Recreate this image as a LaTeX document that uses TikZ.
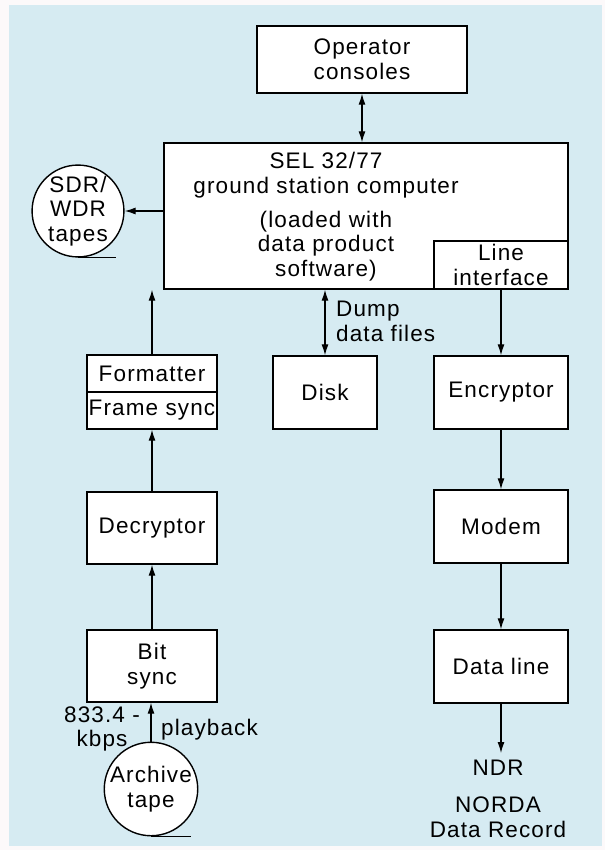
\documentclass[tikz,border=0pt]{standalone}
\usepackage{fontspec}
\setmainfont[LetterSpace=5]{Liberation Sans}
\usetikzlibrary{arrows.meta}
\definecolor{paper}{RGB}{252,249,250}
\definecolor{panel}{RGB}{214,235,242}
\newcommand\lbl{\fontsize{22.5}{24.5}\selectfont}

\begin{document}
\begin{tikzpicture}[x=1pt,y=-1pt,
  box/.style={draw=black, fill=white, line width=1.4pt, inner sep=0pt,
              align=center, font=\lbl},
  tapereel/.style={circle, draw=black, fill=white, line width=1.4pt,
              inner sep=0pt, minimum size=84pt, align=center, font=\lbl},
  txt/.style={inner sep=0pt, font=\lbl},
  conn/.style={line width=1.2pt, -{Latex[length=11pt,width=7pt]}},
  bothway/.style={line width=1.2pt, {Latex[length=11pt,width=7pt]}-{Latex[length=11pt,width=7pt]}}
]
% page and tinted panel
\useasboundingbox (0,0) rectangle (605,850);
\fill[paper] (0,0) rectangle (605,850);
\fill[panel] (9,5) rectangle (602,846);

% central computer
\node[box, minimum width=210pt, minimum height=67pt] (ops) at (362,59.5)
  {Operator\\consoles};
\node[box, minimum width=404pt, minimum height=146pt] (sel) at (366,216) {};
\node[txt, align=center] (seltitle) at (326,175) {SEL 32/77\\ground station computer};
\node[txt, align=center] (selnote) at (326,246) {(loaded with\\data product\\software)};
\node[box, minimum width=134pt, minimum height=48pt] (lif) at (501,265)
  {Line\\interface};

% recorded output tapes
\node[tapereel] (sdr) at (78,211) {SDR/\\WDR\\tapes};
\draw[line width=1.4pt] (sdr.south) -- ++(38,0);

% playback chain
\node[box, minimum width=130pt, minimum height=37pt] (fmt) at (152,373.5) {Formatter};
\node[box, minimum width=130pt, minimum height=37pt] (fsync) at (152,410.5) {Frame sync};
\node[box, minimum width=130pt, minimum height=72pt] (dec) at (152,528) {Decryptor};
\node[box, minimum width=130pt, minimum height=72pt] (bit) at (152,666) {Bit\\sync};
\node[tapereel] (arc) at (151,789) {Archive\\tape};
\draw[line width=1.4pt] (arc.south) -- ++(40,0);
\node[txt, align=center] (rate) at (102,729) {833.4 -\\kbps};
\node[txt, anchor=west] (play) at (161,730) {playback};

% disk
\node[box, minimum width=104pt, minimum height=73pt] (disk) at (325,392.5) {Disk};
\node[txt, anchor=west, align=left] (dump) at (336,321.5) {Dump\\data files};

% outgoing line chain
\node[box, minimum width=134pt, minimum height=73pt] (enc) at (501,392.5) {Encryptor};
\node[box, minimum width=134pt, minimum height=73pt] (mod) at (501,526.5) {Modem};
\node[box, minimum width=134pt, minimum height=73pt] (dl) at (501,666.5) {Data line};
\coordinate (ndrtip) at (501,753);
\node[txt] (ndr) at (498,768) {NDR};
\node[txt, align=center] (norda) at (498,817) {NORDA\\Data Record};

% connectors
\draw[bothway] (ops.south) -- (ops.south |- sel.north);
\draw[conn] (sel.west |- sdr) -- (sdr.east);
\draw[conn] (fmt.north) -- (fmt.north |- sel.south);
\draw[conn] (dec.north) -- (fsync.south);
\draw[conn] (bit.north) -- (dec.south);
\draw[conn] (arc.north) -- (arc.north |- bit.south);
\draw[bothway] (disk.north |- sel.south) -- (disk.north);
\draw[conn] (lif.south) -- (enc.north);
\draw[conn] (enc.south) -- (mod.north);
\draw[conn] (mod.south) -- (dl.north);
\draw[conn] (dl.south) -- (ndrtip);
\end{tikzpicture}
\end{document}
